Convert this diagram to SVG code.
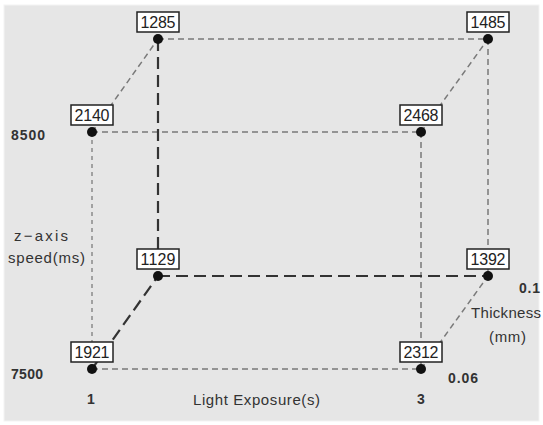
<svg xmlns="http://www.w3.org/2000/svg" width="543" height="425" viewBox="0 0 543 425">
<style>
.bg{fill:#e6e6e6;stroke:#f3f3f3;stroke-width:1}
.lg{stroke:#7a7a7a;stroke-width:1.5;stroke-dasharray:6 4;fill:none}
.lf{stroke:#8a8a8a;stroke-width:1.5;stroke-dasharray:4 4;fill:none}
.ld{stroke:#333;stroke-width:2.2;stroke-dasharray:12 6;fill:none}
.box{fill:#fff;stroke:#222;stroke-width:1.5}
.val{font-family:"Liberation Sans",Arial,sans-serif;font-size:16px;fill:#222;text-anchor:middle}
.dot{fill:#111}
.ax{font-family:"Liberation Sans",Arial,sans-serif;font-size:15px;fill:#333}
.axb{font-family:"Liberation Sans",Arial,sans-serif;font-size:14px;font-weight:bold;fill:#333}
</style>
<rect class="bg" x="4" y="5" width="535" height="416"/>
<g id="connectors">
<line class="lg" x1="158" y1="39" x2="488" y2="39"/>
<line class="lg" x1="92" y1="132" x2="421" y2="132"/>
<line class="lf" x1="92" y1="132" x2="92" y2="369"/>
<line class="ld" x1="158" y1="39" x2="158" y2="276"/>
<line class="lg" x1="421" y1="132" x2="421" y2="369"/>
<line class="lg" x1="488" y1="39" x2="488" y2="276"/>
<line class="ld" x1="158" y1="276" x2="488" y2="276"/>
<line class="lg" x1="92" y1="369" x2="421" y2="369"/>
<line class="lg" x1="92" y1="132" x2="158" y2="39"/>
<line class="lg" x1="421" y1="132" x2="488" y2="39"/>
<line class="ld" x1="92" y1="369" x2="158" y2="276"/>
<line class="lg" x1="421" y1="369" x2="488" y2="276"/>
</g>
<g id="n1285"><rect class="box" x="137" y="12" width="42" height="20"/><text class="val" x="158" y="28" textLength="35">1285</text><circle class="dot" cx="158" cy="39" r="5"/></g>
<g id="n1485"><rect class="box" x="467" y="12" width="42" height="20"/><text class="val" x="488" y="28" textLength="35">1485</text><circle class="dot" cx="488" cy="39" r="5"/></g>
<g id="n2140"><rect class="box" x="71" y="105" width="42" height="20"/><text class="val" x="92" y="121" textLength="35">2140</text><circle class="dot" cx="92" cy="132" r="5"/></g>
<g id="n2468"><rect class="box" x="400" y="105" width="42" height="20"/><text class="val" x="421" y="121" textLength="35">2468</text><circle class="dot" cx="421" cy="132" r="5"/></g>
<g id="n1129"><rect class="box" x="137" y="249" width="42" height="20"/><text class="val" x="158" y="265" textLength="35">1129</text><circle class="dot" cx="158" cy="276" r="5"/></g>
<g id="n1392"><rect class="box" x="467" y="249" width="42" height="20"/><text class="val" x="488" y="265" textLength="35">1392</text><circle class="dot" cx="488" cy="276" r="5"/></g>
<g id="n1921"><rect class="box" x="71" y="342" width="42" height="20"/><text class="val" x="92" y="358" textLength="35">1921</text><circle class="dot" cx="92" cy="369" r="5"/></g>
<g id="n2312"><rect class="box" x="400" y="342" width="42" height="20"/><text class="val" x="421" y="358" textLength="35">2312</text><circle class="dot" cx="421" cy="369" r="5"/></g>
<g id="labels">
<text class="axb" x="11" y="140" textLength="34">8500</text>
<text class="axb" x="11" y="379" textLength="32">7500</text>
<text class="ax" x="14" y="241" textLength="54">z−axis</text>
<text class="ax" x="8" y="263" textLength="77">speed(ms)</text>
<text class="axb" x="91" y="404" text-anchor="middle">1</text>
<text class="axb" x="421" y="404" text-anchor="middle">3</text>
<text class="ax" x="193" y="405" textLength="127">Light Exposure(s)</text>
<text class="axb" x="448" y="383" textLength="30">0.06</text>
<text class="axb" x="519" y="293" textLength="21">0.1</text>
<text class="ax" x="471" y="318" textLength="70">Thickness</text>
<text class="ax" x="489" y="342" textLength="37">(mm)</text>
</g>
</svg>
